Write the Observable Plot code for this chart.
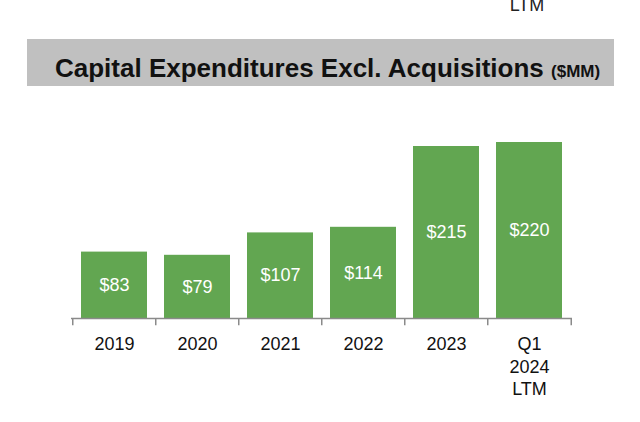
<!DOCTYPE html>
<html>
<head>
<meta charset="utf-8">
<script src="https://cdn.jsdelivr.net/npm/d3@7"></script>
<script src="https://cdn.jsdelivr.net/npm/@observablehq/plot@0.6"></script>
<style>
  html, body { margin: 0; padding: 0; background: #fff; }
  #wrap { position: relative; width: 640px; height: 422px; overflow: hidden; font-family: "Liberation Sans", Arial, sans-serif; }
  #ltm { position: absolute; left: 480px; width: 94px; top: -4px; text-align: center; font-size: 18px; line-height: 18px; color: #222; }
  #bar { position: absolute; left: 27px; top: 39px; width: 587px; height: 47px; background: #c0c0c0; }
  #title { position: absolute; left: 55px; top: 54px; font-size: 26px; line-height: 29px; font-weight: bold; color: #111; white-space: nowrap; }
  #title small { font-size: 17px; }
  #chart { position: absolute; left: 0; top: 0; }
</style>
</head>
<body>
<div id="wrap">
  <div id="ltm">LTM</div>
  <div id="bar"></div>
  <div id="title">Capital Expenditures Excl. Acquisitions <small>($MM)</small></div>
  <div id="chart"></div>
</div>
<script>
const categories = ["2019", "2020", "2021", "2022", "2023", "Q1 2024 LTM"];
const tickLabels = ["2019", "2020", "2021", "2022", "2023", "Q1\n2024\nLTM"];
const values = [83, 79, 107, 114, 215, 220];
const valueLabels = ["$83", "$79", "$107", "$114", "$215", "$220"];

const data = categories.map((c, i) => ({cat: c, value: values[i], label: valueLabels[i], tick: tickLabels[i]}));

const W = 640, H = 422;
const mL = 71, mR = 68;
const step = (W - mL - mR) / 6;

const chart = Plot.plot({
  width: W,
  height: H,
  marginLeft: mL,
  marginRight: mR,
  marginTop: 118,
  marginBottom: 104,
  style: {fontFamily: "'Liberation Sans', Arial, sans-serif", background: "transparent"},
  x: {domain: categories, paddingInner: 0.2, paddingOuter: 0.1, axis: null},
  y: {domain: [0, 250], axis: null},
  marks: [
    Plot.barY(data, {x: "cat", y: "value", fill: "#62a651"}),
    Plot.text(data, {x: "cat", y: d => d.value / 2, text: "label", fill: "#ffffff", fontSize: 18, lineAnchor: "middle"}),
    Plot.ruleY([0], {stroke: "#8a8a8a", strokeWidth: 1.5}),
    Plot.ruleX(categories, {x: d => d, y1: 0, y2: -9, dx: -step / 2, stroke: "#8a8a8a", strokeWidth: 1.5}),
    Plot.ruleX(categories.slice(-1), {x: d => d, y1: 0, y2: -9, dx: step / 2, stroke: "#8a8a8a", strokeWidth: 1.5}),
    Plot.text(data, {x: "cat", y: 0, text: "tick", dy: 16, lineAnchor: "top", lineHeight: 1.25, fontSize: 18, fill: "#111"})
  ]
});
document.getElementById("chart").appendChild(chart);
</script>
</body>
</html>
